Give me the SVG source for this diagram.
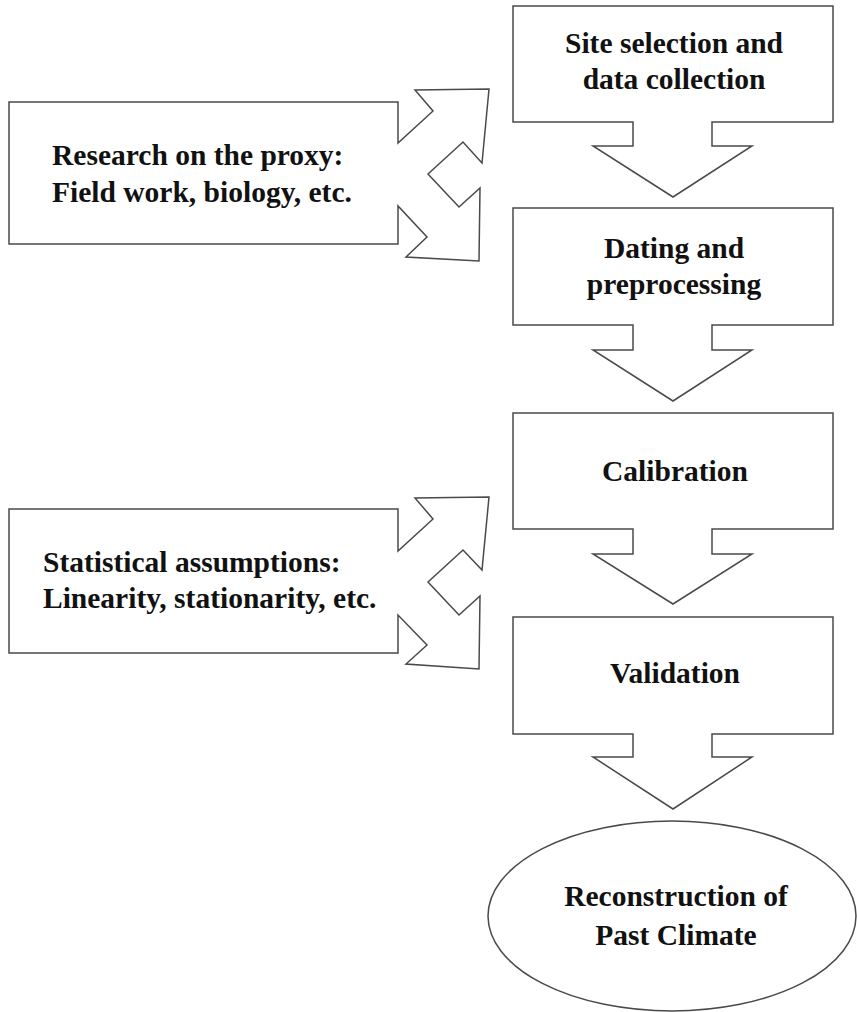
<svg xmlns="http://www.w3.org/2000/svg" width="857" height="1012" viewBox="0 0 857 1012">
<style>
.shape{fill:#fff;stroke:#4a4a4a;stroke-width:1.5;stroke-linejoin:miter}
.t{font-family:"Liberation Serif","Times New Roman",serif;font-weight:bold;font-size:29.5px;fill:#111}
.c{text-anchor:middle}
</style>
<rect width="857" height="1012" fill="#fff"/>
<g id="connectors"></g>
<g id="node-research">
<path class="shape" d="M9,102 H398 V143 L433,111 L415,90 L489,89 L482,163 L463,142 L428,174 L459,207 L480,188 L479,261 L406,257 L427,237 L398,206 V244 H9 Z"/>
<text class="t" x="52" y="165">Research on the proxy:</text>
<text class="t" x="52" y="202">Field work, biology, etc.</text>
</g>
<g id="node-statistical">
<path class="shape" d="M9,509 H398 V551 L433,519 L415,498 L489,497 L482,570 L463,550 L428,582 L459,615 L480,596 L479,669 L406,664 L427,645 L398,615 V653 H9 Z"/>
<text class="t" x="43" y="572">Statistical assumptions:</text>
<text class="t" x="43" y="608">Linearity, stationarity, etc.</text>
</g>
<g id="node-site">
<path class="shape" d="M513,6 H833 V122 H712 V146 H752 L673,197 L593,146 H633 V122 H513 Z"/>
<text class="t c" x="674" y="53">Site selection and</text>
<text class="t c" x="674" y="89">data collection</text>
</g>
<g id="node-dating">
<path class="shape" d="M513,208 H833 V325 H712 V350 H752 L673,401 L593,350 H633 V325 H513 Z"/>
<text class="t c" x="674" y="258">Dating and</text>
<text class="t c" x="674" y="294">preprocessing</text>
</g>
<g id="node-calibration">
<path class="shape" d="M513,413 H833 V529 H712 V554 H752 L673,604 L593,554 H633 V529 H513 Z"/>
<text class="t c" x="675" y="481">Calibration</text>
</g>
<g id="node-validation">
<path class="shape" d="M513,617 H833 V734 H712 V757 H752 L673,809 L593,757 H633 V734 H513 Z"/>
<text class="t c" x="675" y="683">Validation</text>
</g>
<g id="node-reconstruction">
<ellipse class="shape" cx="672" cy="916" rx="184" ry="95"/>
<text class="t c" x="676" y="906">Reconstruction of</text>
<text class="t c" x="676" y="945">Past Climate</text>
</g>
</svg>
